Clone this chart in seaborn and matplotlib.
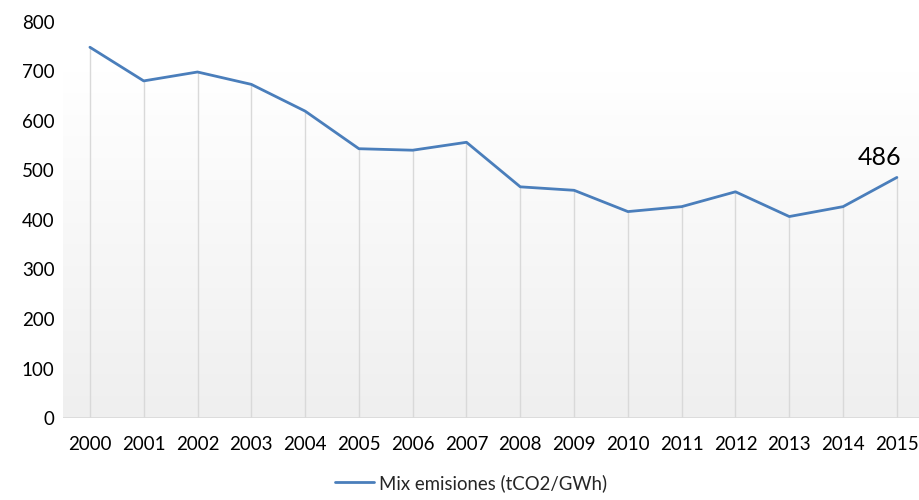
import numpy as np
import pandas as pd
import matplotlib
matplotlib.use("Agg")
import matplotlib.pyplot as plt
import seaborn as sns

years = ["2000", "2001", "2002", "2003", "2004", "2005", "2006", "2007",
         "2008", "2009", "2010", "2011", "2012", "2013", "2014", "2015"]
emissions = [749, 681, 699, 674, 620, 544, 541, 557,
             467, 460, 417, 427, 457, 407, 427, 486]
series_name = "Mix emisiones (tCO2/GWh)"
y_ticks = [0, 100, 200, 300, 400, 500, 600, 700, 800]

df = pd.DataFrame({"year": years, "value": emissions})
df["pos"] = np.arange(len(df))

sns.set_theme(style="white")
plt.rcParams["font.family"] = ["Lato", "DejaVu Sans"]

fig = plt.figure(figsize=(9.2, 5.0), dpi=100)
ax = fig.add_axes([0.0685, 0.164, 0.9315, 0.792])

xmin, xmax = -0.5, 15.43
ymin, ymax = 0, 800

# plot-area background: white at the top fading to light grey at the base
grad = np.linspace(0, 1, 256).reshape(-1, 1)
top_c = np.array([1.0, 1.0, 1.0])
bot_c = np.array([0xEF, 0xEF, 0xEF]) / 255
img = top_c * (1 - grad[..., None]) + bot_c * grad[..., None]
img = img.reshape(256, 1, 3)
ax.imshow(img, extent=[xmin, xmax, ymin, 700], origin="upper",
          aspect="auto", zorder=0, interpolation="bilinear")

# drop lines from each point down to the axis
ax.vlines(df["pos"], 0, df["value"], color="#d9d9d9", lw=1.0, zorder=1)

sns.lineplot(data=df, x="pos", y="value", ax=ax, color="#4a7ebb",
             lw=2.0, label=series_name, zorder=3)

ax.axhline(0, color="#d9d9d9", lw=1.2, zorder=2)

last = df.iloc[-1]
ax.annotate(f"{last['value']:.0f}", (last["pos"], last["value"]),
            xytext=(3, 6), textcoords="offset points",
            ha="right", va="bottom", fontsize=18, color="#000000")

ax.set_xlim(xmin, xmax)
ax.set_ylim(ymin, ymax)
ax.set_xticks(df["pos"])
ax.set_xticklabels(years)
ax.set_yticks(y_ticks)
ax.set_yticklabels([str(v) for v in y_ticks])
ax.tick_params(axis="both", length=0, labelsize=13.5, colors="#000000")
ax.tick_params(axis="x", pad=13)
ax.tick_params(axis="y", pad=6)
ax.set_xlabel("")
ax.set_ylabel("")
for s in ax.spines.values():
    s.set_visible(False)
ax.set_facecolor("white")

leg = ax.legend(loc="upper center", bbox_to_anchor=(0.476, -0.108),
                frameon=False, fontsize=13.4, handlelength=2.1,
                handletextpad=0.25, borderpad=0.2)

fig.savefig("out.png", dpi=100, facecolor="white")
